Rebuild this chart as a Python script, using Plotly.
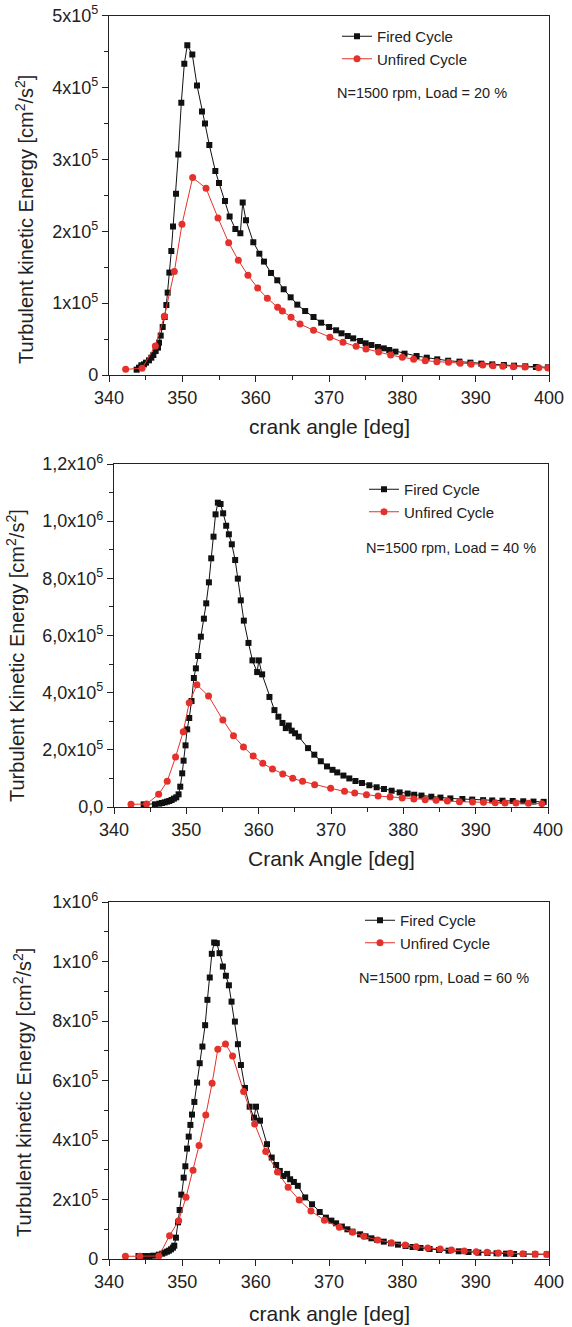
import plotly.graph_objects as go

# ---------------- data ----------------
# Panel 1: Load 20 %
p1_fired_x = [343.77, 344.09, 344.41, 344.77, 345.05, 345.45, 345.77, 346.05, 346.36, 346.68, 346.82, 347.05,
              347.32, 347.59, 347.82, 348.0, 348.23, 348.5, 348.73, 349.14, 349.45, 349.86, 350.27, 350.68,
              351.36, 352.0, 352.68, 353.09, 353.68, 354.5, 355.0, 355.82, 356.45, 357.23, 357.91, 358.23,
              358.68, 359.68, 360.5, 361.14, 362.09, 362.95, 363.82, 364.77, 365.68, 366.75, 367.89, 368.93,
              370.02, 370.97, 371.71, 372.56, 373.3, 374.24, 374.99, 375.78, 376.67, 377.47, 378.21, 379.06,
              380.3, 381.94, 383.33, 384.76, 386.25, 387.79, 389.28, 390.77, 392.26, 393.85, 395.24, 396.77,
              398.21, 399.85]
p1_fired_y = [7.4e3, 1.02e4, 1.35e4, 1.48e4, 1.72e4, 2.04e4, 2.41e4, 2.78e4, 3.34e4, 3.81e4, 4.5e4, 5.48e4,
              6.68e4, 8.07e4, 9.74e4, 1.146e5, 1.425e5, 1.726e5, 2.065e5, 2.524e5, 3.067e5, 3.787e5, 4.33e5, 4.59e5,
              4.46e5, 4.03e5, 3.666e5, 3.499e5, 3.2e5, 2.84e5, 2.673e5, 2.422e5, 2.204e5, 2.033e5, 1.972e5, 2.399e5,
              2.153e5, 1.847e5, 1.689e5, 1.578e5, 1.42e5, 1.318e5, 1.193e5, 1.081e5, 9.79e4, 8.9e4, 8.07e4, 7.28e4,
              6.68e4, 6.22e4, 5.8e4, 5.43e4, 5.1e4, 4.73e4, 4.41e4, 4.17e4, 3.9e4, 3.71e4, 3.48e4, 3.25e4,
              2.97e4, 2.64e4, 2.41e4, 2.18e4, 1.99e4, 1.86e4, 1.72e4, 1.58e4, 1.48e4, 1.39e4, 1.3e4, 1.21e4,
              1.11e4, 1.07e4]
p1_unfired_x = [342.27, 344.5, 346.32, 347.55, 348.91, 349.95, 351.41, 353.23, 354.86, 356.32, 357.64, 358.95,
                360.27, 361.59, 363.0, 363.64, 364.82, 366.05, 367.89, 370.12, 371.91, 373.7, 375.04, 376.77,
                378.41, 380.0, 381.54, 383.13, 384.71, 386.3, 387.89, 389.38, 390.97, 392.36, 393.7, 395.14,
                396.72, 398.61, 399.85]
p1_unfired_y = [7.9e3, 9.3e3, 4.04e4, 8.17e4, 1.439e5, 2.097e5, 2.747e5, 2.599e5, 2.186e5, 1.842e5, 1.596e5, 1.387e5,
                1.211e5, 1.067e5, 9.42e4, 8.91e4, 8.03e4, 7.1e4, 6.22e4, 5.24e4, 4.55e4, 3.99e4, 3.62e4, 3.2e4,
                2.78e4, 2.46e4, 2.18e4, 1.99e4, 1.86e4, 1.76e4, 1.62e4, 1.48e4, 1.39e4, 1.3e4, 1.21e4, 1.16e4,
                1.11e4, 1.02e4, 9.7e3]

# Panel 2: Load 40 %
p2_fired_x = [344.1, 345.66, 346.26, 346.63, 347.0, 347.32, 347.64, 347.96, 348.28, 348.61, 348.93, 349.16,
              349.43, 349.62, 349.89, 350.12, 350.4, 350.72, 351.04, 351.32, 351.64, 352.01, 352.43, 352.75,
              353.12, 353.44, 353.76, 354.04, 354.36, 354.73, 355.09, 355.51, 355.88, 356.29, 356.75, 357.12,
              357.53, 357.95, 358.59, 359.14, 359.79, 360.02, 360.48, 361.49, 362.18, 362.73, 363.29, 363.75,
              364.16, 364.57, 365.03, 365.54, 366.83, 367.69, 368.59, 369.45, 370.21, 370.86, 371.72, 372.53,
              373.38, 374.29, 375.3, 376.31, 377.32, 378.38, 379.49, 380.6, 381.5, 382.51, 383.87, 385.13,
              386.5, 388.16, 389.52, 391.03, 392.29, 393.71, 395.12, 396.58, 397.99, 399.4]
p2_fired_y = [9.3e3, 9.3e3, 1.17e4, 1.4e4, 1.63e4, 1.87e4, 2.1e4, 2.45e4, 2.92e4, 3.38e4, 4.43e4, 7.11e4,
              1.178e5, 1.621e5, 2.157e5, 2.717e5, 3.114e5, 3.708e5, 4.513e5, 4.851e5, 5.283e5, 5.959e5, 6.589e5, 7.125e5,
              7.86e5, 8.7e5, 9.458e5, 1.0239e6, 1.0647e6, 1.06e6, 1.0274e6, 9.84e5, 9.54e5, 9.19e5, 8.64e5, 7.99e5,
              7.23e5, 6.52e5, 5.74e5, 5.13e5, 4.72e5, 5.13e5, 4.64e5, 3.85e5, 3.39e5, 3.16e5, 2.94e5, 2.76e5,
              2.85e5, 2.67e5, 2.58e5, 2.46e5, 2.06e5, 1.83e5, 1.6e5, 1.42e5, 1.3e5, 1.21e5, 1.1e5, 1.0e5,
              9.1e4, 8.4e4, 7.6e4, 6.9e4, 6.3e4, 5.7e4, 5.1e4, 4.7e4, 4.3e4, 4.0e4, 3.6e4, 3.3e4,
              3.0e4, 2.8e4, 2.6e4, 2.4e4, 2.3e4, 2.2e4, 2.1e4, 2.0e4, 1.9e4, 1.8e4]
p2_unfired_x = [342.35, 344.51, 346.17, 347.36, 348.51, 349.57, 350.4, 351.46, 353.07, 355.05, 356.52, 357.9,
                359.24, 360.57, 361.91, 363.33, 364.71, 366.07, 367.74, 369.95, 371.87, 373.28, 374.9, 376.51,
                378.17, 379.84, 381.45, 383.02, 384.53, 386.09, 387.76, 389.57, 391.08, 392.7, 394.06, 395.57,
                397.29, 399.15]
p2_unfired_y = [9.3e3, 1.05e4, 4.43e4, 8.98e4, 1.749e5, 2.636e5, 3.65e5, 4.28e5, 3.883e5, 3.044e5, 2.496e5, 2.099e5,
                1.784e5, 1.528e5, 1.329e5, 1.155e5, 1.003e5, 8.97e4, 7.81e4, 6.52e4, 5.48e4, 4.89e4, 4.31e4, 3.84e4,
                3.5e4, 3.15e4, 2.8e4, 2.56e4, 2.33e4, 2.1e4, 1.86e4, 1.75e4, 1.63e4, 1.51e4, 1.4e4, 1.4e4,
                1.28e4, 1.17e4]

# Panel 3: Load 60 %
p3_fired_x = [344.02, 344.79, 345.53, 346.07, 346.8, 347.26, 347.58, 347.9, 348.17, 348.45, 348.72, 348.9,
              349.13, 349.41, 349.63, 349.86, 350.18, 350.41, 350.64, 350.87, 351.1, 351.32, 351.64, 352.01,
              352.37, 352.74, 353.11, 353.42, 353.74, 354.02, 354.34, 354.7, 355.07, 355.53, 355.94, 356.35,
              356.71, 357.17, 357.58, 357.99, 358.54, 359.18, 359.77, 360.05, 360.59, 361.55, 362.19, 362.79,
              363.29, 363.79, 364.29, 364.7, 365.21, 365.75, 366.75, 367.69, 368.73, 369.58, 370.32, 370.97,
              371.76, 372.51, 373.2, 374.24, 374.99, 375.78, 376.58, 377.47, 378.46, 379.4, 380.45, 381.39,
              382.48, 383.72, 385.01, 386.3, 387.69, 389.03, 390.37, 391.61, 392.85, 394.14, 395.24, 396.53,
              398.11, 399.7]
p3_fired_y = [1.0e4, 1.0e4, 1.0e4, 1.12e4, 1.46e4, 1.79e4, 2.13e4, 2.47e4, 2.8e4, 3.25e4, 3.81e4, 4.48e4,
              7.17e4, 1.233e5, 1.648e5, 2.164e5, 2.735e5, 3.117e5, 3.711e5, 4.114e5, 4.507e5, 4.854e5, 5.28e5, 5.93e5,
              6.581e5, 7.141e5, 7.859e5, 8.711e5, 9.462e5, 1.0258e6, 1.0639e6, 1.0617e6, 1.028e6, 9.83e5, 9.52e5, 9.2e5,
              8.65e5, 7.98e5, 7.22e5, 6.52e5, 5.75e5, 5.12e5, 4.75e5, 5.12e5, 4.65e5, 3.86e5, 3.41e5, 3.16e5,
              2.96e5, 2.79e5, 2.86e5, 2.68e5, 2.59e5, 2.46e5, 2.07e5, 1.84e5, 1.58e5, 1.39e5, 1.29e5, 1.2e5,
              1.09e5, 9.98e4, 9.19e4, 8.3e4, 7.62e4, 6.95e4, 6.39e4, 5.83e4, 5.27e4, 4.82e4, 4.37e4, 4.04e4,
              3.7e4, 3.36e4, 3.03e4, 2.8e4, 2.58e4, 2.35e4, 2.13e4, 2.02e4, 1.91e4, 1.79e4, 1.68e4, 1.68e4,
              1.57e4, 1.57e4]
p3_unfired_x = [342.24, 344.2, 346.8, 348.26, 349.5, 350.5, 351.46, 352.28, 353.2, 354.06, 354.84, 355.89,
                356.85, 358.36, 359.86, 361.37, 362.97, 364.43, 365.94, 367.54, 369.38, 371.41, 373.2, 374.74,
                376.63, 378.51, 380.4, 381.89, 383.47, 385.16, 386.7, 388.44, 390.07, 391.56, 393.1, 394.74,
                396.43, 398.11, 399.7]
p3_unfired_y = [9.0e3, 9.0e3, 1.01e4, 7.85e4, 1.289e5, 2.074e5, 2.982e5, 3.812e5, 4.843e5, 5.908e5, 7.052e5, 7.231e5,
                6.827e5, 5.628e5, 4.54e5, 3.61e5, 2.926e5, 2.41e5, 1.984e5, 1.614e5, 1.3e5, 1.065e5, 8.97e4, 7.62e4,
                6.39e4, 5.49e4, 4.71e4, 4.15e4, 3.7e4, 3.36e4, 3.03e4, 2.69e4, 2.47e4, 2.24e4, 2.02e4, 1.91e4,
                1.79e4, 1.68e4, 1.57e4]

# tick labels
x_ticks = [340, 350, 360, 370, 380, 390, 400]
p1_yticks = [0, 1e5, 2e5, 3e5, 4e5, 5e5]
p1_yticktext = ["0", "1x10<sup>5</sup>", "2x10<sup>5</sup>", "3x10<sup>5</sup>", "4x10<sup>5</sup>", "5x10<sup>5</sup>"]
p2_yticks = [0, 2e5, 4e5, 6e5, 8e5, 1.0e6, 1.2e6]
p2_yticktext = ["0,0", "2,0x10<sup>5</sup>", "4,0x10<sup>5</sup>", "6,0x10<sup>5</sup>", "8,0x10<sup>5</sup>",
                "1,0x10<sup>6</sup>", "1,2x10<sup>6</sup>"]
p3_yticks = [0, 2e5, 4e5, 6e5, 8e5, 1.0e6, 1.2e6]
p3_yticktext = ["0", "2x10<sup>5</sup>", "4x10<sup>5</sup>", "6x10<sup>5</sup>", "8x10<sup>5</sup>",
                "1x10<sup>6</sup>", "1x10<sup>6</sup>"]

titles_x = ["crank angle [deg]", "Crank Angle [deg]", "crank angle [deg]"]
titles_y = ["Turbulent kinetic Energy [cm<sup>2</sup>/s<sup>2</sup>]",
            "Turbulent Kinetic Energy [cm<sup>2</sup>/s<sup>2</sup>]",
            "Turbulent kinetic Energy [cm<sup>2</sup>/s<sup>2</sup>]"]
notes = ["N=1500 rpm, Load = 20 %", "N=1500 rpm, Load = 40 %", "N=1500 rpm, Load = 60 %"]

# ---------------- figure ----------------
W, H = 572, 1327
FONT = "Liberation Sans, Arial, Helvetica, sans-serif"
BLACK = "#111111"
RED = "#e4312b"
INK = "#222222"

# pixel layout of the three plot areas (left, right, top, bottom)
boxes = [(109, 549, 15.7, 375), (114, 548, 464, 807), (109, 549, 902, 1259)]
yranges = [[0, 5e5], [0, 1.2e6], [0, 1.2e6]]
ydt = [1e5, 2e5, 2e5]
ytv = [p1_yticks, p2_yticks, p3_yticks]
ytt = [p1_yticktext, p2_yticktext, p3_yticktext]
series = [(p1_fired_x, p1_fired_y, p1_unfired_x, p1_unfired_y),
          (p2_fired_x, p2_fired_y, p2_unfired_x, p2_unfired_y),
          (p3_fired_x, p3_fired_y, p3_unfired_x, p3_unfired_y)]
legend_pos = [(337, 20), (364, 473), (360, 904)]
note_pos = [(335, 93), (364, 548), (357, 978)]
ytitle_pos = [(24, 220), (15, 656), (22, 1093)]
xtitle_y = [427, 858, 1313]

fig = go.Figure()
for i in range(3):
    sfx = "" if i == 0 else str(i + 1)
    leg = "legend" + sfx
    fx, fy, ux, uy = series[i]
    fig.add_trace(go.Scatter(x=fx, y=fy, mode="lines+markers", name="Fired Cycle",
                             line=dict(color=BLACK, width=1),
                             marker=dict(symbol="square", size=6, color=BLACK),
                             xaxis="x" + sfx, yaxis="y" + sfx, legend=leg))
    fig.add_trace(go.Scatter(x=ux, y=uy, mode="lines+markers", name="Unfired Cycle",
                             line=dict(color=RED, width=1),
                             marker=dict(symbol="circle", size=7, color=RED),
                             xaxis="x" + sfx, yaxis="y" + sfx, legend=leg))

layout = dict(width=W, height=H, margin=dict(l=0, r=0, t=0, b=0),
              paper_bgcolor="white", plot_bgcolor="white",
              font=dict(family=FONT, size=18, color=INK))
annotations = []
for i in range(3):
    sfx = "" if i == 0 else str(i + 1)
    l, r, t, b = boxes[i]
    axcommon = dict(showgrid=False, zeroline=False, showline=True, linecolor=INK, linewidth=1.3,
                    mirror=True, ticks="outside", ticklen=6, tickwidth=1.2, tickcolor=INK,
                    tickfont=dict(family=FONT, size=18, color=INK), automargin=False)
    layout["xaxis" + sfx] = dict(axcommon, domain=[l / W, r / W], range=[340, 400],
                                 tickmode="array", tickvals=x_ticks,
                                 minor=dict(dtick=5, tick0=340, ticks="outside", ticklen=4, tickcolor=INK),
                                 anchor="y" + sfx)
    layout["yaxis" + sfx] = dict(axcommon, domain=[1 - b / H, 1 - t / H], range=yranges[i],
                                 tickmode="array", tickvals=ytv[i], ticktext=ytt[i],
                                 minor=dict(dtick=ydt[i] / 2, tick0=0, ticks="outside", ticklen=4,
                                            tickcolor=INK),
                                 anchor="x" + sfx)
    lx, ly = legend_pos[i]
    layout["legend" + sfx] = dict(
        x=lx / W, y=1 - ly / H, xanchor="left", yanchor="top", bgcolor="rgba(0,0,0,0)",
        font=dict(family=FONT, size=15, color=INK), itemwidth=30, tracegroupgap=0)
    nx, ny = note_pos[i]
    annotations.append(dict(text=notes[i], x=nx / W, y=1 - ny / H, xref="paper", yref="paper",
                            xanchor="left", yanchor="middle", showarrow=False,
                            font=dict(family=FONT, size=14.5, color=INK)))
    annotations.append(dict(text=titles_x[i], x=(l + r) / 2 / W, y=1 - xtitle_y[i] / H, xref="paper",
                            yref="paper", xanchor="center", yanchor="middle", showarrow=False,
                            font=dict(family=FONT, size=21, color=INK)))
    tx, ty = ytitle_pos[i]
    annotations.append(dict(text=titles_y[i], x=tx / W, y=1 - ty / H, xref="paper",
                            yref="paper", xanchor="center", yanchor="middle", showarrow=False, textangle=-90,
                            font=dict(family=FONT, size=20, color=INK)))
layout["annotations"] = annotations
fig.update_layout(**layout)
fig.write_html("out.html", config={"displayModeBar": False},
               post_script="document.body.style.margin='0';document.body.style.overflow='hidden';")
